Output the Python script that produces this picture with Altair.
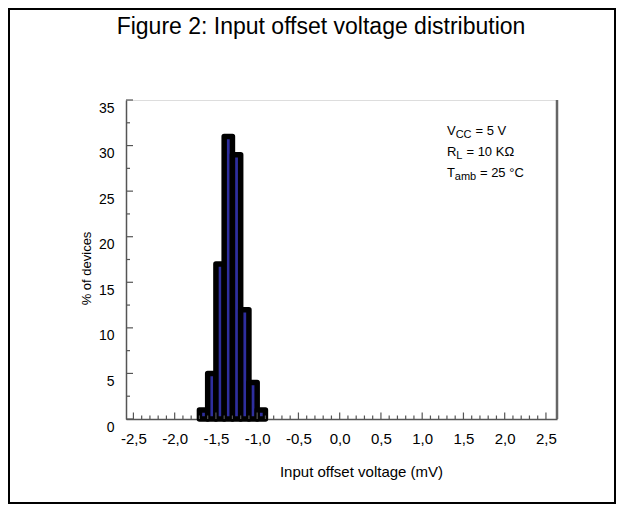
import altair as alt
import pandas as pd

# ---- data ----
BIN_CENTERS = [-1.65, -1.55, -1.45, -1.35, -1.25, -1.15, -1.05, -0.95]   # mV
PCT_DEVICES = [1, 5, 17, 31, 29, 12, 4, 1]                               # %
BIN_WIDTH = 0.1

X_MAJOR = [-2.5, -2.0, -1.5, -1.0, -0.5, 0.0, 0.5, 1.0, 1.5, 2.0, 2.5]
Y_MAJOR = [0, 5, 10, 15, 20, 25, 30, 35]
Y_MINOR = [2.5, 7.5, 12.5, 17.5, 22.5, 27.5, 32.5]

ANNOT_MAIN = ["V", "R", "T"]
ANNOT_SUB = ["CC", "L", "amb"]
ANNOT_REST = ["= 5 V", "= 10 K\u03a9", "= 25 \u00b0C"]
ANNOT_X = 1.3
ANNOT_Y = [31.16, 28.86, 26.55]

TITLE = "Figure 2: Input offset voltage distribution"
X_TITLE = "Input  offset voltage (mV)"
Y_TITLE = "% of devices"

FONT = "Liberation Sans, Arial, sans-serif"
W, H = 431, 319
XDOM = [-2.59, 2.634]
YDOM = [0, 35]
AX = "#555555"

bars = pd.DataFrame({
    "x0": [c - BIN_WIDTH / 2 for c in BIN_CENTERS],
    "x1": [c + BIN_WIDTH / 2 for c in BIN_CENTERS],
    "pct": PCT_DEVICES,
})
x_minor = sorted(set(round(v / 10, 1) for v in range(-25, 26)) - set(X_MAJOR))

xs = alt.Scale(domain=XDOM, nice=False, zero=False)
ys = alt.Scale(domain=YDOM, nice=False)

base_x = alt.X("x0:Q", scale=xs, axis=alt.Axis(
    values=X_MAJOR,
    labelExpr="replace(replace(format(datum.value, '.1f'), '.', ','), '\u2212', '-')",
    tickSize=0, labelPadding=12, labelFontSize=15, labelFont=FONT, labelColor="#000",
    domainColor=AX, domainWidth=1.5, grid=False, title=X_TITLE, titleFont=FONT,
    titleFontSize=15, titleFontWeight="normal", titleColor="#000",
    titleX=235, titleY=57, titleBaseline="alphabetic", titleAlign="center",
    labelFlush=False, labelOverlap=False))
base_y = alt.Y("pct:Q", scale=ys, axis=alt.Axis(
    values=Y_MAJOR, format="d", tickSize=0, labelPadding=12, labelFontSize=14,
    labelFont=FONT, labelColor="#000", labelOffset=8, domainColor=AX, domainWidth=1.5,
    grid=False, title=Y_TITLE, titleFont=FONT, titleFontSize=13, titleFontWeight="normal",
    titleColor="#000", titleX=-40, titleY=168, titleAngle=270, titleAlign="center",
    titleBaseline="middle", labelFlush=False, labelOverlap=False))

bar_layer = alt.Chart(bars).mark_rect(
    fill="#2e2e9e", stroke="#000", strokeWidth=5.5, strokeJoin="round"
).encode(x=base_x, x2="x1:Q", y=base_y, y2=alt.datum(0))

xt_major = alt.Chart(pd.DataFrame({"v": X_MAJOR})).mark_rule(color=AX, strokeWidth=1.2).encode(
    x=alt.X("v:Q", scale=xs), y=alt.value(H), y2=alt.value(H - 6.5))
xt_minor = alt.Chart(pd.DataFrame({"v": x_minor})).mark_rule(color=AX, strokeWidth=1.2).encode(
    x=alt.X("v:Q", scale=xs), y=alt.value(H), y2=alt.value(H - 3.5))
yt_major = alt.Chart(pd.DataFrame({"v": Y_MAJOR})).mark_rule(color=AX, strokeWidth=1.2).encode(
    y=alt.Y("v:Q", scale=ys), x=alt.value(0), x2=alt.value(7))
yt_minor = alt.Chart(pd.DataFrame({"v": Y_MINOR})).mark_rule(color=AX, strokeWidth=1.2).encode(
    y=alt.Y("v:Q", scale=ys), x=alt.value(0), x2=alt.value(4))
right_edge = alt.Chart(pd.DataFrame({"k": [0]})).mark_rule(color="#666666", strokeWidth=2.5).encode(
    x=alt.value(W), y=alt.value(0), y2=alt.value(H))

ann = pd.DataFrame({"main": ANNOT_MAIN, "sub": ANNOT_SUB, "rest": ANNOT_REST,
                    "x": [ANNOT_X] * 3, "y": ANNOT_Y})
SUB_DX = [8.7, 9.4, 7.9]
REST_DX = [28.5, 19.5, 33.0]
txt_layers = []
for i in range(3):
    row = ann.iloc[[i]]
    enc = dict(x=alt.X("x:Q", scale=xs), y=alt.Y("y:Q", scale=ys))
    txt_layers.append(alt.Chart(row).mark_text(align="left", baseline="alphabetic", font=FONT,
                      fontSize=13, color="#000").encode(text="main:N", **enc))
    txt_layers.append(alt.Chart(row).mark_text(align="left", baseline="alphabetic", font=FONT,
                      fontSize=11, color="#000", dx=SUB_DX[i], dy=3).encode(text="sub:N", **enc))
    txt_layers.append(alt.Chart(row).mark_text(align="left", baseline="alphabetic", font=FONT,
                      fontSize=13, color="#000", dx=REST_DX[i]).encode(text="rest:N", **enc))

title_layer = alt.Chart(pd.DataFrame({"t": [TITLE]})).mark_text(
    align="center", baseline="alphabetic", font=FONT, fontSize=23, color="#000"
).encode(text="t:N", x=alt.value(195), y=alt.value(-66))

border = alt.Chart(pd.DataFrame({"k": [0]})).mark_rect(
    fill=None, stroke="#000", strokeWidth=2).encode(
    x=alt.value(-117), x2=alt.value(W + 58), y=alt.value(-91), y2=alt.value(H + 84))

chart = alt.layer(bar_layer, xt_major, xt_minor, yt_major, yt_minor, right_edge, *txt_layers,
                  title_layer, border).properties(
    width=W, height=H,
    padding={"left": 118, "top": 92, "right": 59, "bottom": 85},
    autosize=alt.AutoSizeParams(type="none"),
).configure_view(stroke=AX, strokeWidth=1.5).configure(background="white")

chart.save("out.html", embed_options={"renderer": "svg", "actions": False})
